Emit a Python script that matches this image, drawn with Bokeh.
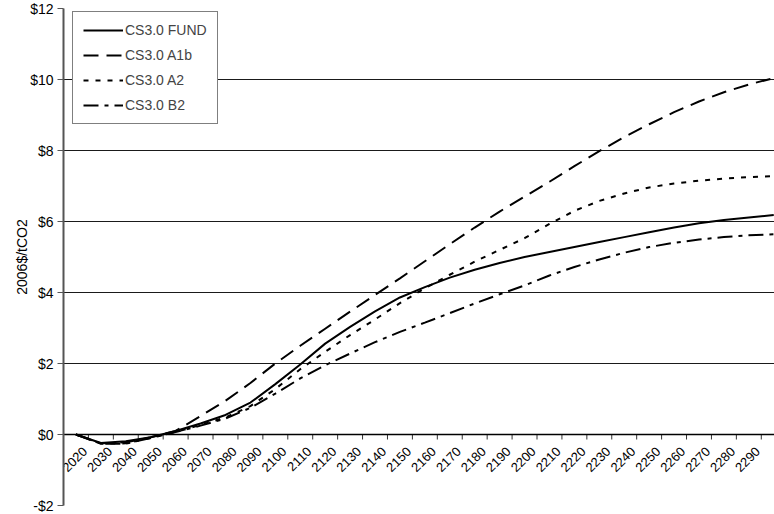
import math
from bokeh.plotting import figure
from bokeh.models import Range1d, FixedTicker, Grid, Legend, LegendItem
from bokeh.core.properties import value
from bokeh.embed import file_html
from bokeh.resources import INLINE

# ---------------- data ----------------
years = list(range(2010, 2300, 10))
year_labels = [str(y) for y in years]

fund = [0.00, -0.24, -0.19, -0.08, 0.10, 0.31, 0.55, 0.90, 1.42, 1.97,
        2.56, 3.03, 3.47, 3.86, 4.15, 4.42, 4.64, 4.83, 5.00, 5.14,
        5.28, 5.42, 5.56, 5.70, 5.83, 5.95, 6.04, 6.11, 6.18]
a1b = [0.00, -0.25, -0.22, -0.08, 0.10, 0.52, 0.95, 1.45, 2.00, 2.50,
       2.98, 3.46, 3.93, 4.40, 4.88, 5.36, 5.83, 6.28, 6.70, 7.12,
       7.56, 7.98, 8.38, 8.74, 9.08, 9.38, 9.64, 9.86, 10.04]
a2 = [0.00, -0.26, -0.25, -0.10, 0.07, 0.27, 0.48, 0.80, 1.28, 1.84,
      2.33, 2.80, 3.24, 3.70, 4.12, 4.50, 4.87, 5.20, 5.53, 5.93,
      6.30, 6.58, 6.79, 6.96, 7.07, 7.15, 7.21, 7.25, 7.28]
b2 = [0.00, -0.26, -0.26, -0.10, 0.07, 0.25, 0.45, 0.75, 1.15, 1.58,
      1.95, 2.28, 2.60, 2.89, 3.15, 3.42, 3.69, 3.95, 4.20, 4.48,
      4.72, 4.93, 5.12, 5.28, 5.40, 5.49, 5.56, 5.61, 5.64]

series_names = ["CS3.0 FUND", "CS3.0 A1b", "CS3.0 A2", "CS3.0 B2"]
y_ticks = [-2, 0, 2, 4, 6, 8, 10, 12]
y_tick_labels = ["-$2", "$0", "$2", "$4", "$6", "$8", "$10", "$12"]
y_title = "2006$/tCO2"

# category boundaries (Excel puts ticks between categories)
boundaries = [y - 5 for y in years]

FONT = "Liberation Sans"

p = figure(width=774, height=514, output_backend="svg", toolbar_location=None,
           x_range=Range1d(2005, 2290.3), y_range=Range1d(-2, 12),
           x_axis_type=None, min_border_left=63, min_border_right=0,
           min_border_top=8, min_border_bottom=9)
p.outline_line_color = None
p.background_fill_color = "white"
p.border_fill_color = "white"
p.xgrid.visible = False
p.ygrid.visible = False

# horizontal gridlines
p.add_layout(Grid(dimension=1, ticker=FixedTicker(ticks=[t for t in y_ticks if 0 < t < 12]),
                  grid_line_color="#1a1a1a", grid_line_width=1))
p.add_layout(Grid(dimension=1, ticker=FixedTicker(ticks=[y_ticks[-1]]),
                  grid_line_color="#8c8c8c", grid_line_width=1))
p.add_layout(Grid(dimension=1, ticker=FixedTicker(ticks=[y_ticks[0]]),
                  grid_line_color="#b4b4b4", grid_line_width=2))

# y axis
ax = p.yaxis[0]
ax.ticker = FixedTicker(ticks=y_ticks)
ax.major_label_overrides = {t: l for t, l in zip(y_ticks, y_tick_labels)}
ax.axis_label = y_title
ax.axis_label_text_font = FONT
ax.axis_label_text_font_size = "14px"
ax.axis_label_text_font_style = "normal"
ax.axis_label_text_color = "black"
ax.axis_label_standoff = -3
ax.major_label_text_font = FONT
ax.major_label_text_font_size = "14px"
ax.major_label_text_color = "black"
ax.major_label_standoff = 4
ax.major_tick_out = 6
ax.major_tick_in = 0
ax.minor_tick_out = 0
ax.minor_tick_in = 0
ax.axis_line_color = "#555555"
ax.axis_line_width = 2
ax.major_tick_line_color = "#555555"
ax.major_tick_line_width = 1

# category axis drawn at y = 0
p.add_layout(Grid(dimension=1, ticker=FixedTicker(ticks=[0]),
                  grid_line_color="black", grid_line_width=1.5, level="glyph"))
p.ray(x=boundaries, y=0, length=5, length_units="screen", angle=-math.pi / 2,
      line_color="#333333", line_width=1)
p.text(x=years, y=0, text=year_labels, angle=math.pi / 4,
       text_align="right", text_baseline="middle", x_offset=-16, y_offset=14.6,
       text_font=value(FONT), text_font_size="13px", text_color="black")

# series
r1 = p.line(years, fund, line_color="black", line_width=2)
r2 = p.line(years, a1b, line_color="black", line_width=2, line_dash="15 8")
r3 = p.line(years, a2, line_color="black", line_width=2, line_dash="5 7")
r4 = p.line(years, b2, line_color="black", line_width=2, line_dash="15 6 4 6")

legend = Legend(items=[LegendItem(label=n, renderers=[r]) for n, r in
                       zip(series_names, [r1, r2, r3, r4])],
                location=(9, 381), margin=0, padding=10, spacing=9,
                glyph_width=40, glyph_height=16, label_height=16, label_standoff=2,
                label_text_font=FONT, label_text_font_size="14px",
                border_line_color="black", border_line_width=1,
                background_fill_color="white", background_fill_alpha=1)
p.add_layout(legend)

open("out.html", "w").write(file_html(p, INLINE))
